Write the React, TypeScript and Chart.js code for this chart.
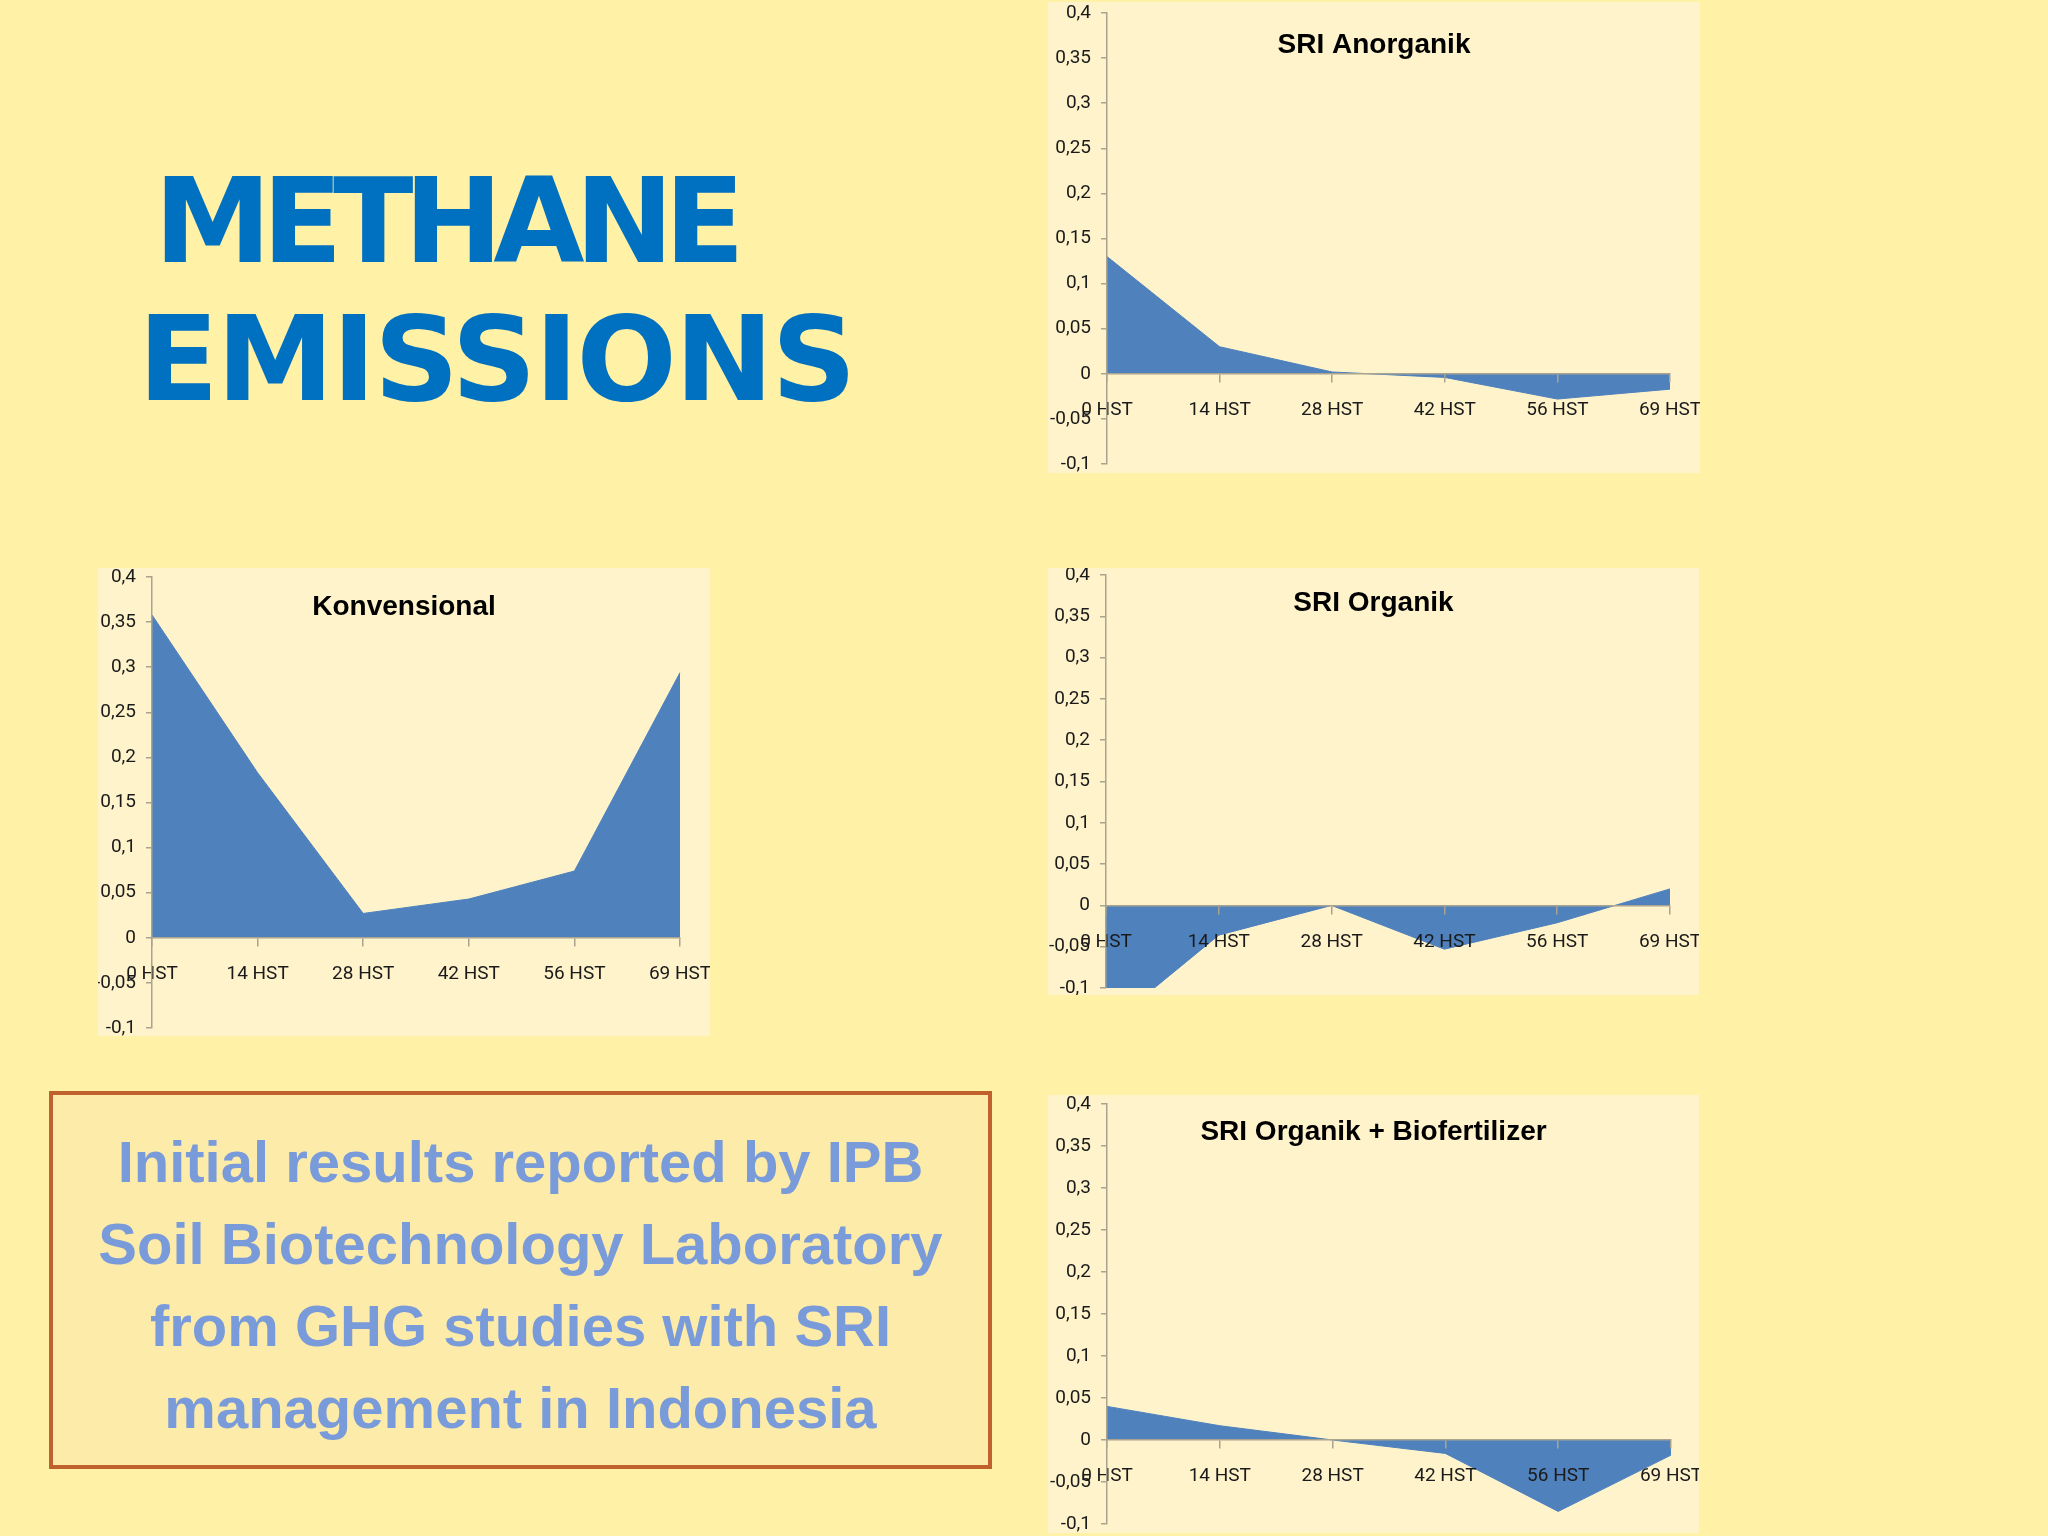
import { useEffect, useRef } from 'react';
import Chart from 'chart.js/auto';

// Categories (days after planting) and measured methane flux per treatment
const HST_LABELS = ['0 HST', '14 HST', '28 HST', '42 HST', '56 HST', '69 HST'];
const KONVENSIONAL = [0.358, 0.183, 0.027, 0.043, 0.074, 0.294];
const SRI_ANORGANIK = [0.13, 0.03, 0.002, -0.004, -0.028, -0.017];
const SRI_ORGANIK = [-0.148, -0.036, 0.0, -0.053, -0.021, 0.02];
const SRI_BIOFERTILIZER = [0.04, 0.017, 0.0, -0.016, -0.085, -0.018];
const Y_TICKS = [-0.1, -0.05, 0, 0.05, 0.1, 0.15, 0.2, 0.25, 0.3, 0.35, 0.4];

const SLIDE_BG = '#FFF1A6';
const PANEL_BG = '#FEF3CB';
const AREA_BLUE = '#4F81BD';
const AXIS_GREY = '#A9A38F';
const TEXT_DARK = '#1A1A1A';
const TICK_FONT = 'Roboto, "Liberation Sans", Arial, sans-serif';

interface Pad {
  left: number;
  right: number;
  top: number;
  bottom: number;
}

interface AreaPanelProps {
  title: string;
  values: number[];
  left: number;
  top: number;
  width: number;
  height: number;
  pad: Pad;
  titleY: number;
}

function formatTick(v: number) {
  const r = Math.round(v * 100) / 100;
  return String(r).replace('.', ',');
}

function AreaPanel({ title, values, left, top, width, height, pad, titleY }: AreaPanelProps) {
  const canvasRef = useRef<HTMLCanvasElement>(null);
  const chartRef = useRef<Chart | null>(null);

  useEffect(() => {
    if (chartRef.current) {
      chartRef.current.destroy();
    }
    if (!canvasRef.current) return;

    // Excel style title sits over the plot area, so it is drawn by hand
    const titlePlugin = {
      id: 'panelTitle',
      afterDraw(chart: Chart) {
        const ctx = chart.ctx;
        ctx.save();
        ctx.font = 'bold 28px "Liberation Sans", Arial, sans-serif';
        ctx.fillStyle = '#000';
        ctx.textAlign = 'center';
        ctx.textBaseline = 'middle';
        ctx.fillText(title, chart.width / 2, titleY);
        ctx.restore();
      },
    };

    chartRef.current = new Chart(canvasRef.current, {
      type: 'line',
      data: {
        labels: HST_LABELS,
        datasets: [
          {
            data: values,
            fill: 'origin',
            backgroundColor: AREA_BLUE,
            borderColor: AREA_BLUE,
            borderWidth: 1,
            pointRadius: 0,
            tension: 0,
          },
        ],
      },
      options: {
        animation: false,
        responsive: true,
        maintainAspectRatio: false,
        layout: { padding: { left: 0, right: pad.right, top: pad.top, bottom: pad.bottom } },
        plugins: {
          legend: { display: false },
          tooltip: { enabled: false },
        },
        scales: {
          x: {
            type: 'category',
            offset: false,
            position: { y: 0 },
            grid: { z: 1, drawOnChartArea: false, drawTicks: true, tickLength: 8, color: AXIS_GREY, lineWidth: 1.5 },
            border: { z: 1, display: true, color: AXIS_GREY, width: 1.5 },
            ticks: {
              z: 1,
              autoSkip: false,
              maxRotation: 0,
              padding: 17,
              color: TEXT_DARK,
              font: { family: TICK_FONT, size: 19 },
            },
            afterFit: (scale: any) => {
              scale.paddingLeft = 0;
              scale.paddingRight = 0;
            },
          },
          y: {
            min: -0.1,
            max: 0.4,
            grid: { drawOnChartArea: false, drawTicks: true, tickLength: 6, color: AXIS_GREY, lineWidth: 1.5 },
            border: { z: 1, display: true, color: AXIS_GREY, width: 1.5 },
            afterBuildTicks: (scale: any) => {
              scale.ticks = Y_TICKS.map((v) => ({ value: v }));
            },
            ticks: {
              padding: 10,
              color: TEXT_DARK,
              font: { family: TICK_FONT, size: 19 },
              callback: (v: any) => formatTick(Number(v)),
            },
            afterFit: (scale: any) => {
              scale.width = pad.left;
              scale.paddingTop = 0;
              scale.paddingBottom = 0;
            },
          },
        },
      },
      plugins: [titlePlugin],
    });

    return () => {
      if (chartRef.current) {
        chartRef.current.destroy();
        chartRef.current = null;
      }
    };
  }, [title, values, pad, titleY]);

  return (
    <div style={{ position: 'absolute', left, top, width, height, background: PANEL_BG }}>
      <canvas ref={canvasRef}></canvas>
    </div>
  );
}

export default function App() {
  return (
    <div
      style={{
        position: 'fixed',
        left: 0,
        top: 0,
        width: 2048,
        height: 1536,
        background: SLIDE_BG,
        overflow: 'hidden',
      }}
    >
      {/* Slide heading */}
      <div
        style={{
          position: 'absolute',
          left: 154,
          top: 162,
          font: 'bold 118px "DejaVu Sans", sans-serif',
          lineHeight: 1,
          letterSpacing: -9.5,
          color: '#0070C0',
          whiteSpace: 'nowrap',
        }}
      >
        METHANE
      </div>
      <div
        style={{
          position: 'absolute',
          left: 138,
          top: 300,
          font: 'bold 118px "DejaVu Sans", sans-serif',
          lineHeight: 1,
          letterSpacing: -2,
          color: '#0070C0',
          whiteSpace: 'nowrap',
        }}
      >
        EMISSIONS
      </div>

      <AreaPanel
        title="SRI Anorganik"
        values={SRI_ANORGANIK}
        left={1048}
        top={2}
        width={652}
        height={471}
        pad={{ left: 59, right: 30, top: 11, bottom: 9 }}
        titleY={43}
      />
      <AreaPanel
        title="Konvensional"
        values={KONVENSIONAL}
        left={98}
        top={568}
        width={612}
        height={468}
        pad={{ left: 54, right: 30, top: 9, bottom: 8 }}
        titleY={39}
      />
      <AreaPanel
        title="SRI Organik"
        values={SRI_ORGANIK}
        left={1048}
        top={568}
        width={651}
        height={427}
        pad={{ left: 58, right: 29, top: 7, bottom: 7 }}
        titleY={35}
      />
      <AreaPanel
        title="SRI Organik + Biofertilizer"
        values={SRI_BIOFERTILIZER}
        left={1048}
        top={1095}
        width={651}
        height={438}
        pad={{ left: 59, right: 28, top: 9, bottom: 9 }}
        titleY={37}
      />

      {/* Source note */}
      <div
        style={{
          position: 'absolute',
          left: 49,
          top: 1091,
          width: 943,
          height: 378,
          boxSizing: 'border-box',
          border: '4px solid #C0622E',
          background: '#FDEBA9',
          paddingTop: 26,
          textAlign: 'center',
          font: 'bold 58px "Liberation Sans", Arial, sans-serif',
          lineHeight: '82px',
          color: '#7A9BDA',
        }}
      >
        Initial results reported by IPB
        <br />
        Soil Biotechnology Laboratory
        <br />
        from GHG studies with SRI
        <br />
        management in Indonesia
      </div>
    </div>
  );
}
